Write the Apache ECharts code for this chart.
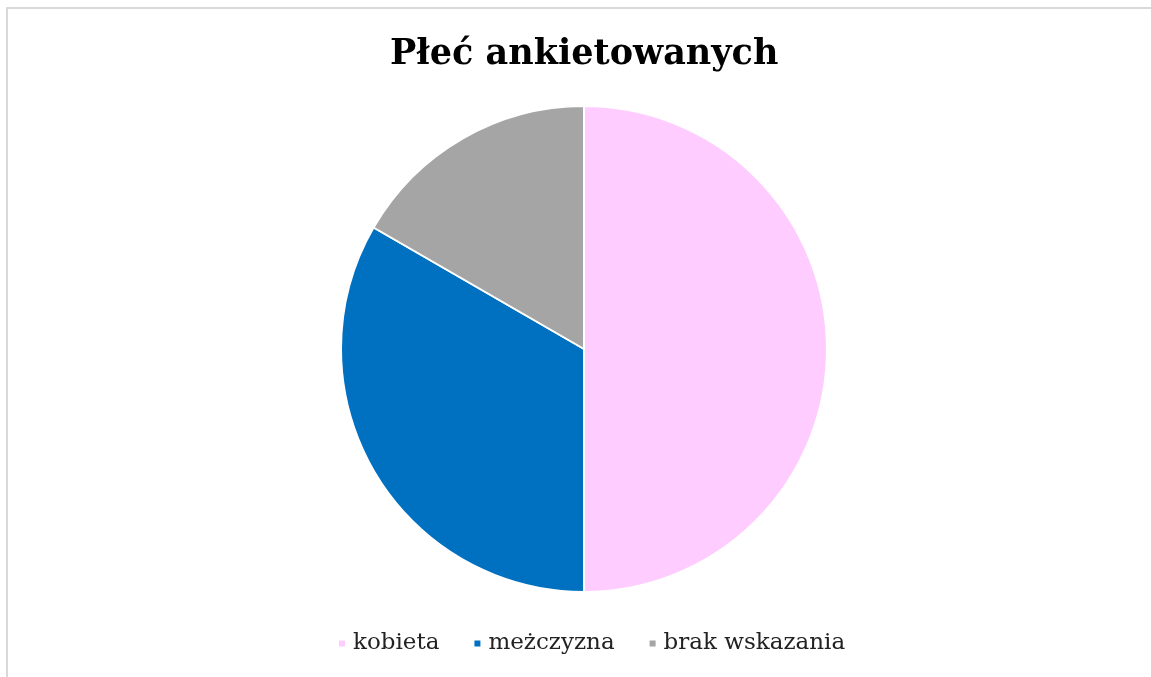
<!DOCTYPE html>
<html>
<head>
<meta charset="utf-8">
<script src="https://cdn.jsdelivr.net/npm/echarts@6/dist/echarts.min.js"></script>
<style>
html, body { margin: 0; padding: 0; background: #fff; }
#chart { width: 1151px; height: 677px; }
</style>
</head>
<body>
<div id="chart"></div>
<script>
var categories = ['kobieta', 'meżczyzna', 'brak wskazania'];
var values = [3, 2, 1];
var colors = ['#FFCCFF', '#0070C0', '#A5A5A5'];

var myChart = echarts.init(document.getElementById('chart'));

var pieData = categories.map(function (name, i) {
    return { name: name, value: values[i], itemStyle: { color: colors[i] } };
});

var option = {
    backgroundColor: '#fff',
    animation: false,
    graphic: [{
        type: 'rect',
        shape: { x: 7, y: 8, width: 1170, height: 700 },
        style: { fill: 'none', stroke: '#d9d9d9', lineWidth: 2 }
    }],
    title: {
        text: 'Płeć ankietowanych',
        left: 385,
        top: 32,
        padding: 5,
        textStyle: {
            fontFamily: 'DejaVu Serif',
            fontWeight: 'bold',
            fontSize: 35,
            color: '#000'
        }
    },
    legend: {
        data: categories,
        bottom: 17,
        left: 332,
        icon: 'rect',
        itemWidth: 8,
        itemHeight: 8,
        itemGap: 33,
        textStyle: {
            fontFamily: 'DejaVu Serif',
            fontSize: 23,
            color: '#222',
            padding: [0, 0, 0, 2]
        }
    },
    series: [{
        type: 'pie',
        center: [584, 349],
        radius: 243,
        startAngle: 90,
        clockwise: true,
        label: { show: false },
        labelLine: { show: false },
        itemStyle: { borderColor: '#fff', borderWidth: 2 },
        data: pieData
    }]
};

myChart.setOption(option);
</script>
</body>
</html>
